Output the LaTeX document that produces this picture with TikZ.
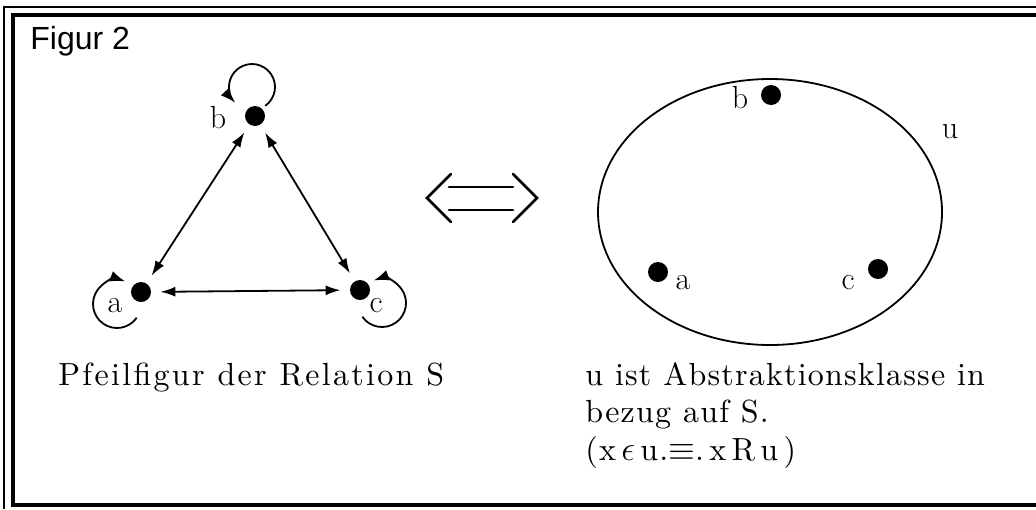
\documentclass[tikz,border=0pt]{standalone}
\usepackage{fontspec}
\newfontfamily\figsans{Liberation Sans}
\newfontfamily\lmL{lmroman10-regular}[Extension=.otf,LetterSpace=7.2]
\newfontfamily\lmR{lmroman10-regular}[Extension=.otf,LetterSpace=3.8]
\usetikzlibrary{arrows.meta,calc,shapes.geometric}
\begin{document}
\begin{tikzpicture}[x=0.5pt,y=-0.5pt,
  dot/.style={circle,fill=black,inner sep=0pt,minimum size=10pt},
  lbl/.style={inner sep=0pt,font=\fontsize{16}{19}\selectfont},
  txt/.style={inner sep=0pt,align=left},
  biarrow/.style={line width=0.9pt,{Latex[length=7.5pt,width=5pt]}-{Latex[length=7.5pt,width=5pt]},shorten <=4.5pt,shorten >=4.5pt},
  looparrow/.style={line width=0.9pt,-{Latex[length=7.5pt,width=5.5pt]}},
  equiv/.style={line width=1.3pt,line cap=round,line join=miter}]
\useasboundingbox (0,0) rectangle (1036,509);
% frame
\draw[line width=0.9pt] (1036,7) -- (4,7) -- (4,509);
\draw[line width=1.8pt] (1036,15) -- (13,15) -- (13,505) -- (1036,505);
\node[anchor=base west,inner sep=0pt,font=\figsans\fontsize{16}{19}\selectfont] (fig) at (30,49) {Figur 2};
% left graph
\node[dot] (b) at (255,116) {};
\node[dot] (a) at (141,292) {};
\node[dot] (c) at (360,290) {};
\node[lbl] (lb) at (218,118) {b};
\node[lbl] (la) at (115,306) {a};
\node[lbl] (lc) at (376,306) {c};
\draw[biarrow] (a) -- (c);
\draw[biarrow] (b) -- (a);
\draw[biarrow] (b) -- (c);
\draw[looparrow] ($(b)+(-3,-29)+(55:23)$) arc[start angle=55,end angle=-223,radius=23];
\draw[looparrow] ($(a)+(-24,12)+(35:24)$) arc[start angle=35,end angle=290,radius=24];
\draw[looparrow] ($(c)+(22,13)+(145:24)$) arc[start angle=145,end angle=-110,radius=24];
\node[txt,anchor=base west,font=\lmL\fontsize{16}{19}\selectfont] (t1) at (58,385) {Pfeilfigur der Relation S};
% equivalence sign
\coordinate (eq) at (482,198);
\draw[equiv] ($(eq)+(-31,-24)$) -- ($(eq)+(-55,0)$) -- ($(eq)+(-31,24)$);
\draw[equiv] ($(eq)+(31,-24)$) -- ($(eq)+(55,0)$) -- ($(eq)+(31,24)$);
\draw[equiv] ($(eq)+(-33,-11)$) -- ($(eq)+(31,-11)$);
\draw[equiv] ($(eq)+(-33,12)$) -- ($(eq)+(31,12)$);
% right: class u
\node[draw,ellipse,line width=0.9pt,minimum width=172pt,minimum height=133pt,inner sep=0pt] (u) at (770,212) {};
\node[dot] (rb) at (771,95) {};
\node[dot] (ra) at (658,272) {};
\node[dot] (rc) at (878,269) {};
\node[lbl] (lrb) at (740,98) {b};
\node[lbl] (lra) at (683,283) {a};
\node[lbl] (lrc) at (848,283) {c};
\node[lbl] (lu) at (950,132) {u};
\node[txt,anchor=base west,font=\lmR\fontsize{16}{18.75}\selectfont] (t2) at (585,460) {u ist Abstraktionsklasse in\\bezug auf S.\\(x\,$\epsilon$\,u.$\equiv$.\,x\,R\,u\,)};
\end{tikzpicture}
\end{document}
